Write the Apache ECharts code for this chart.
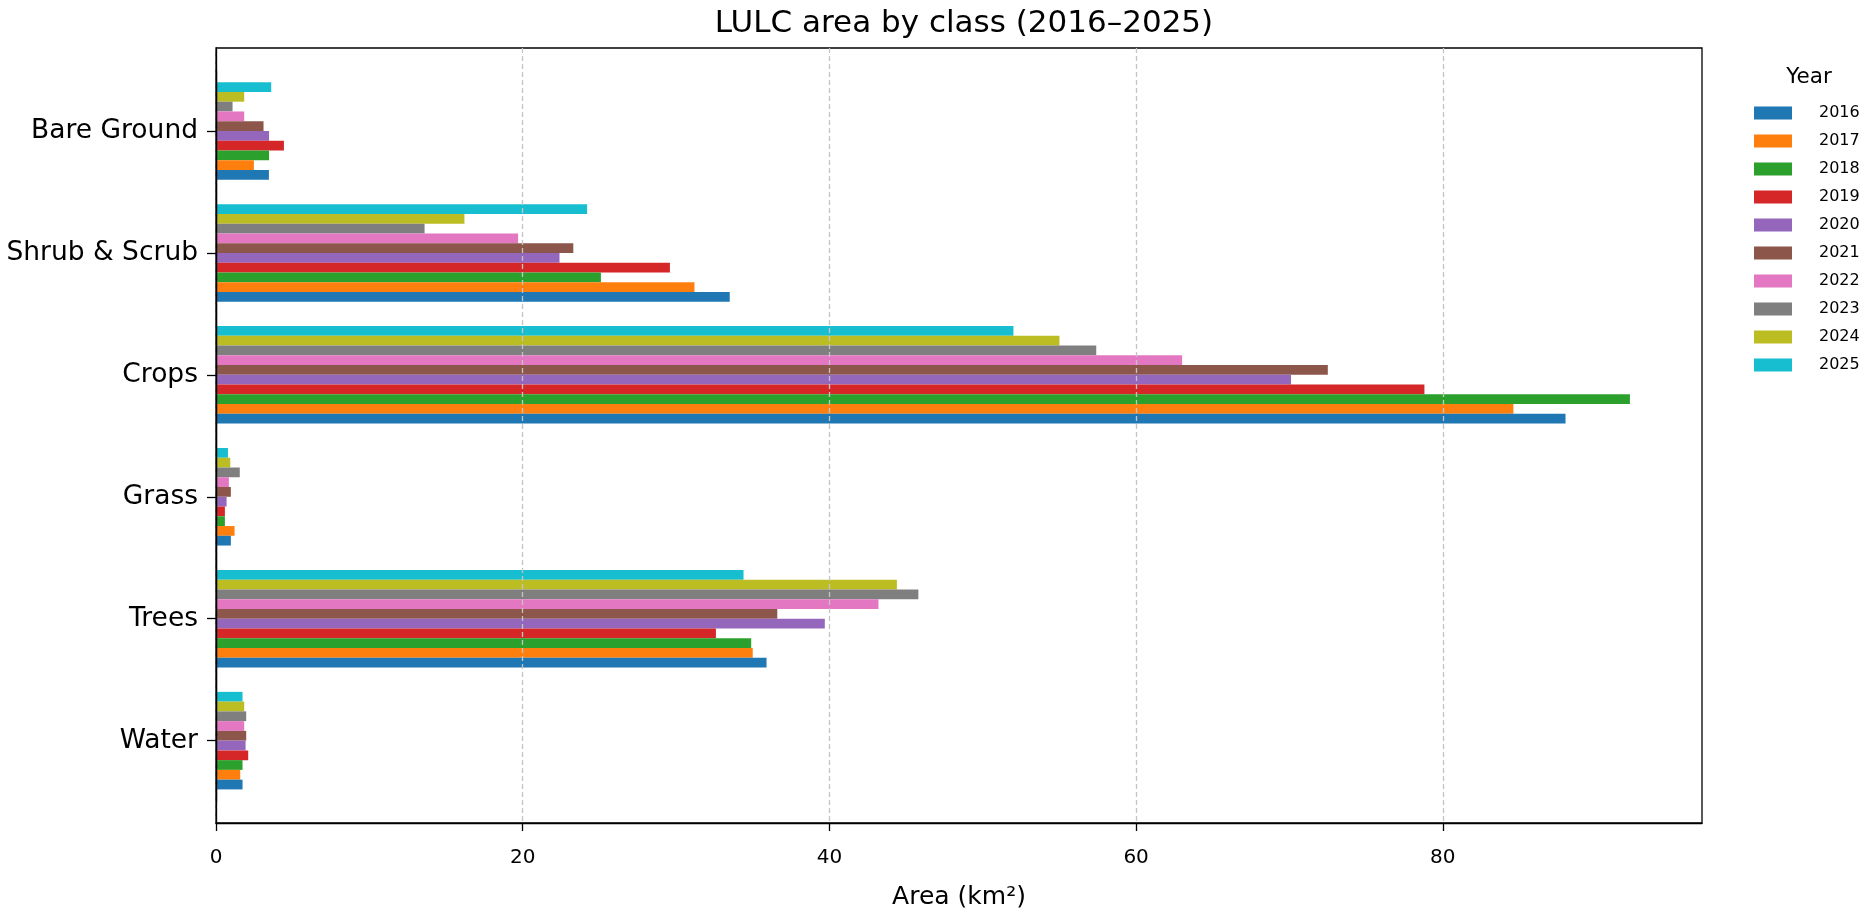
<!DOCTYPE html>
<html>
<head>
<meta charset="utf-8">
<script src="https://cdn.jsdelivr.net/npm/echarts@6/dist/echarts.min.js"></script>
<style>html,body{margin:0;padding:0;background:#fff;}#chart{width:1873px;height:915px;}</style>
</head>
<body>
<div id="chart"></div>
<script>
// Categories listed top to bottom
const categories = ['Bare Ground', 'Shrub & Scrub', 'Crops', 'Grass', 'Trees', 'Water'];
const years = ['2016','2017','2018','2019','2020','2021','2022','2023','2024','2025'];
const xTicks = [0, 20, 40, 60, 80];
// values per year in category order above (km²)
const v2016 = [3.45, 33.5, 88.0, 0.97, 35.9, 1.73];
const v2017 = [2.47, 31.2, 84.6, 1.21, 35.0, 1.58];
const v2018 = [3.46, 25.1, 92.2, 0.58, 34.9, 1.73];
const v2019 = [4.43, 29.6, 78.8, 0.58, 32.6, 2.10];
const v2020 = [3.46, 22.4, 70.1, 0.69, 39.7, 1.93];
const v2021 = [3.10, 23.3, 72.5, 0.97, 36.6, 1.97];
const v2022 = [1.84, 19.7, 63.0, 0.84, 43.2, 1.84];
const v2023 = [1.08, 13.6, 57.4, 1.55, 45.8, 1.97];
const v2024 = [1.84, 16.2, 55.0, 0.93, 44.4, 1.84];
const v2025 = [3.60, 24.2, 52.0, 0.78, 34.4, 1.73];
const values = [v2016, v2017, v2018, v2019, v2020, v2021, v2022, v2023, v2024, v2025];
const colors = ['#1f77b4','#ff7f0e','#2ca02c','#d62728','#9467bd','#8c564b','#e377c2','#7f7f7f','#bcbd22','#17becf'];

const FONT = 'DejaVu Sans';
const xMax = 96.9;
const chart = echarts.init(document.getElementById('chart'));

// series added last-year-first so that 2016 sits at the bottom of each group
const series = years.map((y, i) => ({
  name: y,
  type: 'bar',
  xAxisIndex: 1,
  yAxisIndex: 1,
  data: values[i],
  barGap: '0%',
  barCategoryGap: '20%',
  itemStyle: { color: colors[i] },
  z: 2
})).reverse();

chart.setOption({
  animation: false,
  title: [
    { text: 'LULC area by class (2016–2025)', left: 959, textAlign: 'center', top: 3,
      textStyle: { fontFamily: FONT, fontSize: 31, fontWeight: 'normal', color: '#000' } },
    { text: 'Year', left: 1804, textAlign: 'center', top: 61,
      textStyle: { fontFamily: FONT, fontSize: 21.5, fontWeight: 'normal', color: '#000' } }
  ],
  legend: {
    orient: 'vertical', left: 1754, top: 105, padding: 0,
    itemWidth: 38, itemHeight: 13, itemGap: 12, icon: 'rect',
    data: years,
    textStyle: { fontFamily: FONT, fontSize: 16, color: '#000', padding: [0, 0, 0, 22] }
  },
  grid: [
    { left: 216, top: 48, width: 1486, height: 775, show: true, borderColor: '#000', borderWidth: 1.3, backgroundColor: 'rgba(0,0,0,0)' },
    { left: 216, top: 70, width: 1486, height: 731.6 }
  ],
  xAxis: [
    { type: 'value', gridIndex: 0, min: 0, max: xMax, interval: 20, z: 3,
      name: 'Area (km²)', nameLocation: 'middle', nameGap: 62,
      nameTextStyle: { fontFamily: FONT, fontSize: 25, color: '#000' },
      axisLine: { show: true, lineStyle: { color: '#000', width: 1.3 } },
      axisTick: { show: true, length: 8, lineStyle: { color: '#000', width: 1.3 }, customValues: xTicks },
      axisLabel: { fontFamily: FONT, fontSize: 20, color: '#000', margin: 25, customValues: xTicks },
      splitLine: { show: true, lineStyle: { color: '#c4c4c4', width: 1.3, type: [5, 3] } } },
    { type: 'value', gridIndex: 1, min: 0, max: xMax, show: false, splitLine: { show: false } }
  ],
  yAxis: [
    { type: 'value', gridIndex: 0, show: true, z: 6,
      axisLine: { show: true, lineStyle: { color: '#000', width: 1.3 } },
      axisTick: { show: false }, axisLabel: { show: false }, splitLine: { show: false } },
    { type: 'category', gridIndex: 1, data: categories, inverse: true, z: 5,
      axisLine: { show: true, lineStyle: { color: '#000', width: 1.3 } },
      axisTick: { show: true, alignWithLabel: true, length: 9, lineStyle: { color: '#000', width: 1.3 } },
      axisLabel: { fontFamily: FONT, fontSize: 26.5, color: '#000', margin: 18 },
      splitLine: { show: false } }
  ],
  series: series
});
</script>
</body>
</html>
